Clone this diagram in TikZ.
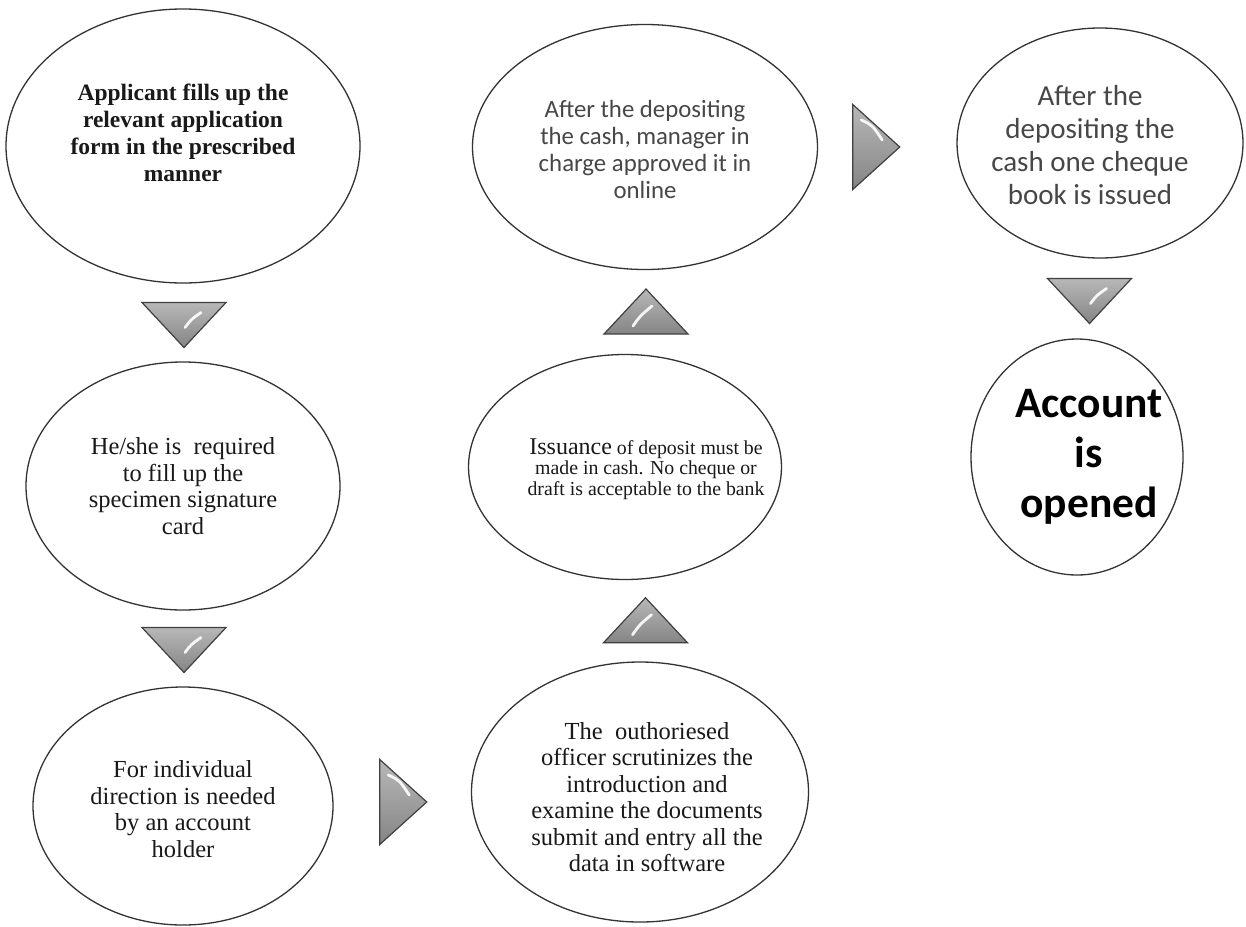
\documentclass[tikz,border=0pt]{standalone}
\usepackage{fontspec}
\setmainfont{Liberation Serif}
\newfontfamily\calfont{Carlito}
\usetikzlibrary{shapes.geometric,calc}
\begin{document}
\begin{tikzpicture}[x=1pt,y=-1pt,
  ell/.style={draw=black!80, line width=1.3pt, fill=white, ellipse, inner sep=0pt},
  serif/.style={align=center, text=black!90, font=\fontsize{24.5}{26.5}\selectfont},
  cal/.style={align=center, text=black!72, font=\calfont\fontsize{24.8}{27}\selectfont},
  trifill/.style={draw=black!75, line width=1.2pt, top color=black!28, bottom color=black!48},
  shine/.style={draw=white, line width=2.8pt, line cap=round, opacity=.9},
  downtri/.pic={
    \path[trifill] (-42,-22) -- (42,-22) -- (0,23) -- cycle;
    \draw[shine] (1,3) .. controls (7,-5) .. (17,-12);
  },
  uptri/.pic={
    \path[trifill] (-42,22) -- (42,22) -- (0,-23) -- cycle;
    \draw[shine] (-13,14) .. controls (-6,4) .. (6,-6);
  },
  righttri/.pic={
    \path[trifill] (-23.5,-42.5) -- (-23.5,42.5) -- (23.5,0) -- cycle;
    \draw[shine] (-15,-27) .. controls (-4,-22) .. (6,-7);
  }]
\useasboundingbox[fill=white] (0,0) rectangle (1246,926);

% ellipses
\node[ell, minimum width=354pt, minimum height=274pt] (e1) at (183,146) {};
\node[ell, minimum width=314pt, minimum height=248pt] (e2) at (183,486) {};
\node[ell, minimum width=300pt, minimum height=238pt] (e3) at (183,806) {};
\node[ell, minimum width=337pt, minimum height=260pt] (e4) at (640,792) {};
\node[ell, minimum width=313pt, minimum height=225pt] (e5) at (625,467) {};
\node[ell, minimum width=345pt, minimum height=245pt] (e6) at (645,147) {};
\node[ell, minimum width=286pt, minimum height=230pt] (e7) at (1100,143) {};
\node[ell, minimum width=212pt, minimum height=236pt] (e8) at (1077,457) {};

% texts
\node[serif, font=\bfseries\fontsize{23.5}{27}\selectfont] (x1) at ($(e1.center)+(0,-13)$)
  {Applicant fills up the\\relevant application\\form in the prescribed\\manner};
\node[serif] (x2) at ($(e2.center)+(0,0)$)
  {He/she is\ \ required\\to fill up the\\specimen signature\\card};
\node[serif] (x3) at ($(e3.center)+(0,3)$)
  {For individual\\direction is needed\\by an account\\holder};
\node[serif] (x4) at ($(e4.center)+(7,5)$)
  {The\ \ outhoriesed\\officer scrutinizes the\\introduction and\\examine the documents\\submit and entry all the\\data in software};
\node[serif, font=\fontsize{19.8}{20.5}\selectfont] (x5) at ($(e5.center)+(21,2)$)
  {{\fontsize{24}{24}\selectfont Issuance} of deposit must be\\made in cash. No cheque or\\draft is acceptable to the bank};
\node[cal] (x6) at ($(e6.center)+(0,2)$)
  {After the depositing\\the cash, manager in\\charge approved it in\\online};
\node[cal, font=\calfont\fontsize{29}{33}\selectfont] (x7) at ($(e7.center)+(-10,2)$)
  {After the\\depositing the\\cash one cheque\\book is issued};
\node[align=center, text=black, font=\calfont\bfseries\fontsize{43.5}{50}\selectfont] (x8) at ($(e8.center)+(12,0)$)
  {Account\\is\\opened};

% direction triangles
\coordinate (t1) at ($(e1.south)!0.5!(e2.north)+(1,2)$);
\coordinate (t2) at ($(e2.south)!0.5!(e3.north)+(1,1)$);
\coordinate (t3) at ($(e3.east)!0.5!(e4.west)+(1,3)$);
\coordinate (t4) at ($(e4.north)!0.5!(e5.south)+(13,0)$);
\coordinate (t5) at ($(e5.north)!0.5!(e6.south)+(11,0)$);
\coordinate (t6) at ($(e6.east)!0.5!(e7.west)+(-11,2)$);
\coordinate (t7) at ($(e7.south)!0.5!(e8.north)+(1,2)$);

\pic at (t1) {downtri};
\pic at (t2) {downtri};
\pic at (t3) {righttri};
\pic at (t4) {uptri};
\pic at (t5) {uptri};
\pic at (t6) {righttri};
\pic at (t7) {downtri};
\end{tikzpicture}
\end{document}
